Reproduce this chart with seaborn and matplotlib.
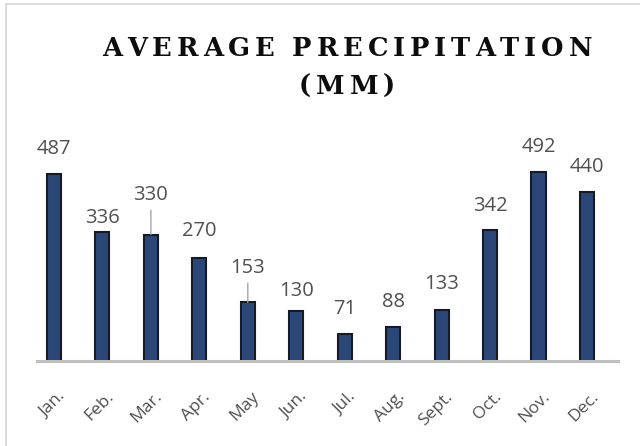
import matplotlib
matplotlib.use("Agg")
import matplotlib.pyplot as plt
import matplotlib.transforms as mtransforms
from matplotlib.lines import Line2D
import seaborn as sns
import pandas as pd

# Monthly precipitation totals (mm)
months = ["Jan.", "Feb.", "Mar.", "Apr.", "May", "Jun.",
          "Jul.", "Aug.", "Sept.", "Oct.", "Nov.", "Dec."]
precip = [487, 336, 330, 270, 153, 130, 71, 88, 133, 342, 492, 440]

# Label placement: pixel offset of each value label above its bar, and
# whether a leader line connects the label to the bar
label_lift = [25, 14, 39, 26, 34, 20, 25, 25, 26, 24, 25, 25]
leader = [False, False, True, False, True, False,
          False, False, False, False, False, False]

title_lines = ["AVERAGE PRECIPITATION", "(MM)"]

W, H, DPI = 640, 446, 100
GRAY_TEXT = "#505050"
BAR_FILL = "#2B4777"
BAR_EDGE = "#151A24"
AXIS_GRAY = "#BFBFBF"

sns.set_theme(style="white")
plt.rcParams["font.family"] = ["Open Sans", "DejaVu Sans"]

fig = plt.figure(figsize=(W / DPI, H / DPI), dpi=DPI)
fig.patch.set_facecolor("white")

# Plot area in pixel coordinates
ax_left, ax_right = 37, 618
ax_top, ax_bottom = 131, 361
ax = fig.add_axes([ax_left / W, (H - ax_bottom) / H,
                   (ax_right - ax_left) / W, (ax_bottom - ax_top) / H])

df = pd.DataFrame({"month": months, "precip": precip})
sns.barplot(data=df, x="month", y="precip", order=months, color=BAR_FILL,
            saturation=1, width=0.29, edgecolor=BAR_EDGE, linewidth=1.5,
            ax=ax, zorder=3)

ax.set_ylim(0, 600)
ax.set_xlim(-0.351, 11.641)
ax.set_xlabel("")
ax.set_ylabel("")
ax.set_yticks([])
for side in ["left", "right", "top"]:
    ax.spines[side].set_visible(False)
ax.spines["bottom"].set_color(AXIS_GRAY)
ax.spines["bottom"].set_linewidth(2.2)
ax.spines["bottom"].set_zorder(4)

ax.set_xticks(range(len(months)))
ax.set_xticklabels(months, rotation=45, ha="right", va="center",
                   rotation_mode="anchor", fontsize=12.5, color=GRAY_TEXT)
ax.tick_params(axis="x", length=0, pad=24)
shift = mtransforms.ScaledTranslation(9 / DPI, 0, fig.dpi_scale_trans)
for lbl in ax.get_xticklabels():
    lbl.set_transform(lbl.get_transform() + shift)

# Value labels above the bars
for i, v in enumerate(precip):
    arrow = None
    if leader[i]:
        arrow = dict(arrowstyle="-", color="#A6A6A6", lw=1.0,
                     shrinkA=1, shrinkB=0)
    ax.annotate(str(v), xy=(i, v), xytext=(0, label_lift[i]),
                textcoords="offset pixels", ha="center", va="center",
                fontsize=14.5, color=GRAY_TEXT, arrowprops=arrow,
                annotation_clip=False, zorder=5)

# Letter-spaced serif title, centred over the chart
title_size = 18.5
title_font = dict(family=["DejaVu Serif"], weight="bold", size=title_size,
                  color="#0D0D0D")
title_cx = 347
line1_span = 490          # pixel width of the first title line
baselines = [H - 56, H - 94]
space_w = title_size * DPI / 72 * 0.3

fig.canvas.draw()
renderer = fig.canvas.get_renderer()


def glyph_widths(line):
    out = []
    for ch in line:
        if ch == " ":
            out.append(space_w)
            continue
        t = fig.text(0, 0, ch, **title_font)
        out.append(t.get_window_extent(renderer).width)
        t.remove()
    return out


w1 = glyph_widths(title_lines[0])
tracking = (line1_span - sum(w1)) / (len(title_lines[0]) - 1)

for line, base in zip(title_lines, baselines):
    widths = glyph_widths(line)
    total = sum(widths) + tracking * (len(line) - 1)
    x = title_cx - total / 2
    for ch, w in zip(line, widths):
        if ch != " ":
            fig.text(x / W, base / H, ch, ha="left", va="baseline",
                     **title_font)
        x += w + tracking

# Chart frame (top and left edges)
frame_kw = dict(color="#D9D9D9", lw=1.3, transform=None)
fig.add_artist(Line2D([6, W], [H - 4, H - 4], **frame_kw))
fig.add_artist(Line2D([6, 6], [0, H - 4], **frame_kw))

fig.savefig("out.png", dpi=DPI, facecolor="white")
